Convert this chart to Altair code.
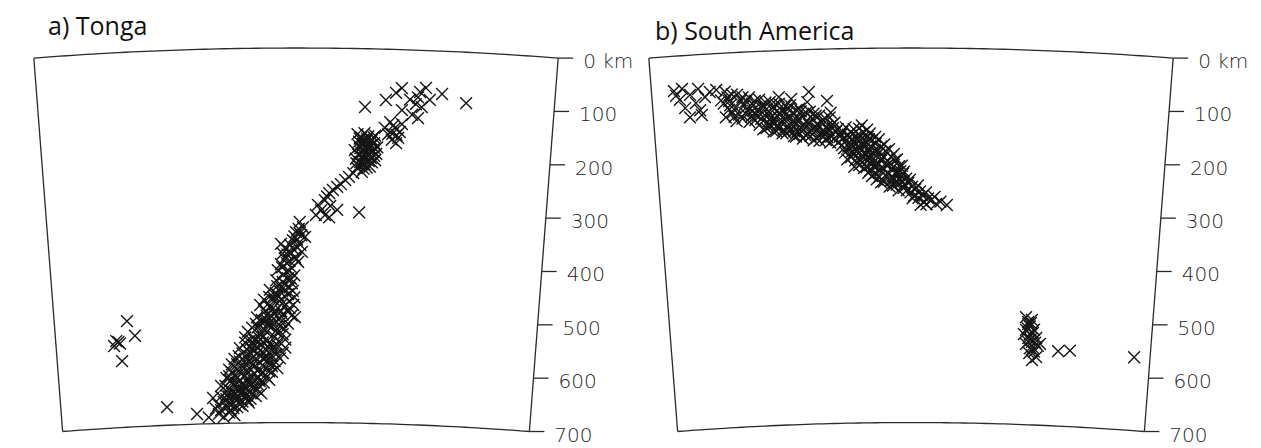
import altair as alt
import numpy as np
import pandas as pd

# ---------------- geometry of the cross-sections ----------------
EARTH_R = 6371.0            # km
SURFACE_HALF_CHORD = 490.0  # km, half width of section at the surface
MAX_DEPTH = 700.0           # km

tick_depths = [0, 100, 200, 300, 400, 500, 600, 700]
tick_labels = ["0 km", "100", "200", "300", "400", "500", "600", "700"]

panel_titles = ["a) Tonga", "b) South America"]

# ---------------- earthquake hypocentres: (horizontal distance km, depth km) ----------------
tonga_shallow = [(318, 95), (273, 80), (243, 70), (232, 78), (228, 88), (187, 81), (168, 95),
                 (129, 109), (235, 106), (228, 127), (198, 113), (213, 93), (198, 72),
                 (224, 101), (250, 92), (217, 121)]
tonga_upper = [(176, 136), (185, 147), (194, 154), (172, 159), (191, 165), (179, 169), (166, 147),
               (198, 139), (187, 175), (180, 158), (188, 160), (182, 142),
               (115, 160), (122, 166), (128, 158), (135, 164), (142, 170), (148, 162), (118, 174),
               (125, 178), (132, 172), (140, 180), (146, 176), (152, 184), (120, 186), (128, 190),
               (136, 186), (144, 192), (150, 196), (116, 198), (124, 202), (132, 198), (140, 204),
               (148, 208), (120, 212), (128, 216), (136, 210), (112, 206), (118, 220), (126, 224),
               (110, 190), (138, 220), (145, 165), (130, 182),
               (119, 168), (126, 170), (133, 168), (140, 174), (147, 186), (122, 194), (130, 194),
               (138, 198), (146, 200), (118, 182), (134, 178), (128, 206), (124, 216), (113, 214),
               (142, 212), (132, 222)]
tonga_chain = [(107, 233), (92, 246), (77, 259), (62, 271), (54, 284), (47, 303), (77, 302),
               (118, 306), (99, 240), (84, 254), (69, 265), (58, 277), (41, 293), (64, 295),
               (37, 312), (54, 312), (114, 223), (123, 230), (62, 316)]
tonga_mid = [(13, 335), (17, 353), (2, 372), (-2, 391), (-13, 379), (-28, 366), (-13, 417),
             (-28, 404), (7, 346), (-6, 359), (11, 381), (-21, 393), (4, 400), (-8, 411),
             (-21, 374), (-34, 415), (7, 325), (0, 344), (-11, 368), (-24, 424),
             (-6, 454), (-28, 447), (-43, 465), (-13, 473), (-2, 503), (-58, 492), (-73, 503),
             (-28, 492), (-37, 434), (-21, 441), (-49, 452), (-34, 462), (-52, 478), (-21, 482),
             (-67, 480), (-41, 497), (-15, 493), (-64, 508),
             (-15, 430), (-8, 440), (-30, 455), (-40, 472), (-15, 460), (-28, 470), (-45, 488),
             (-55, 500), (-30, 505), (-10, 385), (2, 358), (-17, 402), (-3, 425), (-25, 384),
             (-50, 465), (-60, 470), (-5, 480)]
tonga_mid_core = [(5, 338), (10, 350), (-3, 352), (8, 368), (-5, 376), (-16, 386), (0, 395),
                  (-12, 398), (-26, 410), (-18, 418), (-9, 432), (-25, 437), (-12, 448), (-35, 445),
                  (-20, 452), (-3, 466), (-38, 458), (-26, 478), (-12, 486), (-48, 485), (-38, 490),
                  (-25, 498), (-55, 508), (-45, 502), (-8, 500)]
tonga_deep = [(-15, 515), (-30, 520), (-45, 510), (-60, 525), (-75, 515), (-90, 530), (-25, 535),
              (-40, 540), (-55, 530), (-70, 540), (-85, 545), (-20, 545), (-50, 520), (-65, 512),
              (-105, 560), (-95, 550), (-80, 565), (-65, 555), (-50, 560), (-35, 555), (-25, 570),
              (-45, 575), (-60, 570), (-75, 580), (-90, 575), (-100, 570), (-115, 580), (-40, 565),
              (-55, 548), (-70, 548), (-85, 558), (-30, 580), (-20, 560), (-110, 590),
              (-125, 600), (-115, 610), (-100, 595), (-90, 605), (-80, 590), (-70, 600), (-60, 595),
              (-50, 590), (-45, 605), (-55, 615), (-65, 610), (-75, 620), (-85, 615), (-95, 585),
              (-105, 620), (-120, 590), (-130, 615), (-110, 600), (-40, 585), (-50, 620), (-50, 604),
              (-140, 630), (-130, 640), (-120, 625), (-110, 635), (-100, 630), (-90, 640), (-80, 635),
              (-70, 630), (-65, 645), (-75, 650), (-85, 655), (-95, 650), (-105, 645), (-115, 655),
              (-125, 650), (-135, 660), (-100, 660), (-80, 625), (-60, 625), (-120, 640), (-90, 625),
              (-120, 665), (-110, 670), (-130, 670), (-100, 668), (-140, 675), (-125, 680),
              (-135, 688), (-155, 652), (-185, 681), (-163, 688), (-144, 682)]
tonga_deep_core = [(-22, 525), (-37, 528), (-52, 515), (-67, 532), (-82, 522), (-32, 548), (-47, 552),
                   (-62, 540), (-77, 555), (-92, 562), (-107, 575), (-57, 562), (-72, 570), (-87, 568),
                   (-37, 572), (-52, 582), (-67, 588), (-82, 578), (-97, 598), (-112, 612), (-122, 620),
                   (-62, 605), (-77, 608), (-92, 618), (-72, 615), (-87, 598), (-102, 608), (-117, 628),
                   (-132, 630), (-107, 638), (-95, 632), (-82, 645), (-72, 638), (-92, 648), (-112, 645),
                   (-127, 662), (-117, 672), (-108, 655), (-97, 640), (-140, 650), (-145, 665),
                   (-130, 655), (-88, 662), (-115, 685), (-150, 672), (-58, 580), (-45, 595),
                   (-35, 598), (-120, 605), (-110, 625),
                   (-28, 512), (-42, 518), (-58, 510), (-72, 522), (-35, 532), (-62, 550), (-78, 545),
                   (-95, 540), (-42, 558), (-55, 575), (-72, 560), (-88, 585), (-105, 585), (-62, 580),
                   (-78, 595), (-95, 612), (-110, 615), (-125, 612), (-68, 622), (-85, 628),
                   (-100, 640), (-118, 648), (-130, 648), (-90, 658), (-105, 665), (-122, 675)]
tonga_outliers = [(-316, 502), (-301, 530), (-336, 538), (-329, 543), (-340, 547), (-332, 540),
                  (-325, 576), (-241, 666)]

sa_shallow = [(-443, 65), (-428, 62), (-413, 74), (-398, 64), (-376, 71), (-364, 68), (-432, 82),
              (-402, 90), (-413, 116), (-391, 113), (-394, 104), (-422, 98), (-439, 74), (-385, 80),
              (-247, 87), (-191, 79), (-194, 98), (-157, 97), (-150, 119), (-224, 91)]
sa_band = [(-348, 72), (-343, 83), (-350, 94), (-340, 106), (-346, 120),
           (-325, 79), (-318, 90), (-328, 103), (-321, 116), (-326, 128),
           (-303, 85), (-297, 97), (-305, 110), (-299, 121), (-302, 131),
           (-284, 90), (-279, 101), (-286, 113), (-280, 126), (-283, 137), (-276, 146),
           (-264, 95), (-258, 106), (-266, 119), (-260, 131), (-263, 140), (-257, 151),
           (-247, 99), (-241, 112), (-249, 123), (-243, 134), (-246, 145), (-240, 155),
           (-226, 103), (-220, 117), (-228, 128), (-222, 139), (-225, 150), (-219, 161),
           (-209, 110), (-204, 123), (-211, 134), (-205, 146), (-208, 157), (-202, 166),
           (-189, 116), (-184, 129), (-191, 140), (-186, 151), (-188, 162), (-182, 170),
           (-172, 124), (-167, 137), (-174, 149), (-168, 160), (-171, 171),
           (-152, 128), (-147, 141), (-154, 152), (-149, 164), (-151, 175)]
sa_band_core = [(-355, 88), (-335, 78), (-338, 98), (-333, 112), (-315, 84), (-312, 100), (-310, 114),
                (-315, 124), (-292, 92), (-290, 104), (-293, 116), (-291, 128), (-272, 96), (-270, 108),
                (-273, 120), (-268, 133), (-270, 144), (-253, 100), (-251, 113), (-254, 127),
                (-250, 140), (-252, 150), (-234, 104), (-232, 118), (-236, 130), (-230, 142),
                (-233, 155), (-214, 112), (-213, 126), (-216, 140), (-212, 152), (-215, 162),
                (-196, 118), (-195, 133), (-198, 146), (-194, 158), (-178, 124), (-176, 140),
                (-179, 153), (-177, 166), (-160, 130), (-158, 145), (-161, 158), (-159, 170),
                (-143, 138), (-141, 155), (-144, 168),
                (-340, 90), (-330, 120), (-308, 92), (-296, 110), (-287, 120), (-275, 103),
                (-262, 125), (-256, 137), (-244, 118), (-238, 148), (-230, 110), (-220, 132),
                (-218, 152), (-206, 115), (-200, 140), (-197, 160), (-182, 120), (-180, 146),
                (-165, 132), (-163, 152), (-156, 165), (-146, 148)]
sa_blob = [(-137, 150), (-133, 164), (-136, 175),
           (-122, 147), (-118, 161), (-121, 172), (-117, 183), (-123, 194), (-119, 207),
           (-107, 151), (-102, 164), (-106, 176), (-103, 187), (-108, 198), (-104, 209), (-106, 221),
           (-92, 144), (-88, 157), (-91, 168), (-87, 179), (-93, 191), (-89, 202), (-91, 213), (-88, 224),
           (-77, 159), (-73, 172), (-76, 184), (-72, 195), (-78, 206), (-74, 217), (-76, 228), (-73, 239),
           (-60, 170), (-56, 184), (-59, 195), (-55, 206), (-61, 217), (-57, 228), (-59, 240), (-56, 251),
           (-41, 189), (-37, 203), (-40, 214), (-36, 225), (-42, 236), (-38, 248), (-40, 259),
           (-26, 208), (-22, 221), (-25, 233), (-21, 244), (-27, 255), (-23, 266)]
sa_blob_core = [(-128, 155), (-127, 168), (-129, 180), (-112, 156), (-111, 170), (-113, 181),
                (-110, 192), (-112, 203), (-97, 150), (-96, 162), (-98, 174), (-95, 185), (-99, 196),
                (-96, 207), (-97, 218), (-82, 152), (-81, 165), (-83, 177), (-80, 189), (-84, 200),
                (-81, 211), (-83, 222), (-80, 233), (-67, 166), (-66, 178), (-68, 190), (-65, 201),
                (-69, 212), (-66, 222), (-67, 234), (-64, 245), (-50, 180), (-48, 192), (-51, 204),
                (-47, 215), (-50, 226), (-48, 238), (-51, 250), (-32, 198), (-30, 210), (-33, 222),
                (-29, 233), (-31, 245), (-34, 257), (-17, 220), (-15, 235), (-18, 250), (-14, 262),
                (-130, 160), (-125, 186), (-115, 166), (-108, 182), (-100, 170), (-92, 180),
                (-86, 195), (-79, 170), (-75, 200), (-70, 220), (-62, 190), (-56, 210), (-45, 220),
                (-35, 240), (-28, 250), (-20, 230)]
sa_tail = [(-13, 231), (-9, 244), (-12, 255), (-8, 266), (-2, 246), (2, 259), (-1, 270), (3, 281),
           (13, 257), (17, 268), (14, 280), (18, 293), (28, 270), (32, 281), (29, 292), (44, 278),
           (47, 291), (67, 293), (-5, 252), (8, 264), (6, 276), (22, 276), (24, 288), (38, 284),
           (55, 287)]
sa_deep = [(215, 499), (219, 508), (222, 516), (226, 504), (215, 523), (230, 522), (222, 531),
           (219, 538), (234, 537), (226, 545), (215, 549), (237, 552), (222, 557), (230, 563),
           (234, 573), (226, 579), (219, 512), (211, 531), (241, 548),
           (224, 510), (218, 520), (228, 528), (224, 540), (219, 545), (232, 546), (228, 556),
           (221, 566), (275, 560), (297, 558), (417, 563)]

# ---------------- layout ----------------
PANEL_W = 615
PANEL_H = 432
KM_PER_PX = 1.869
X_DOMAIN = [-288 * KM_PER_PX, (PANEL_W - 288) * KM_PER_PX]
Y_DOMAIN = [-40 * KM_PER_PX, (PANEL_H - 40) * KM_PER_PX]
TICK_LEN_KM = 15 * KM_PER_PX
LABEL_GAP_KM = 10 * KM_PER_PX

phi0 = np.arcsin(SURFACE_HALF_CHORD / EARTH_R)


def polar(phi, d):
    r = EARTH_R - d
    return r * np.sin(phi), EARTH_R - r * np.cos(phi)


def quake_df(groups):
    pts = [p for g in groups for p in g]
    x = np.array([p[0] for p in pts], float)
    d = np.array([p[1] for p in pts], float)
    r = EARTH_R - d
    y = EARTH_R - np.sqrt(r * r - x * x)
    return pd.DataFrame({"x": x, "y": y, "depth": d})


def frame_df():
    rows = []
    phis = np.linspace(-phi0, phi0, 81)
    for i, p in enumerate(phis):
        x, y = polar(p, 0.0)
        rows.append({"seg": "top", "i": i, "x": x, "y": y})
        x, y = polar(p, MAX_DEPTH)
        rows.append({"seg": "bottom", "i": i, "x": x, "y": y})
    for i, dd in enumerate([0.0, MAX_DEPTH]):
        x, y = polar(-phi0, dd)
        rows.append({"seg": "left", "i": i, "x": x, "y": y})
        x, y = polar(phi0, dd)
        rows.append({"seg": "right", "i": i, "x": x, "y": y})
    return pd.DataFrame(rows)


def tick_df():
    rows = []
    for t, lab in zip(tick_depths, tick_labels):
        x, y = polar(phi0, float(t))
        rows.append({"x": x, "x2": x + TICK_LEN_KM, "xl": x + TICK_LEN_KM + LABEL_GAP_KM,
                     "y": y, "label": lab})
    return pd.DataFrame(rows)


xs = alt.Scale(domain=X_DOMAIN, nice=False, zero=False)
ys = alt.Scale(domain=Y_DOMAIN, nice=False, zero=False, reverse=True)
INK = "#2a2a2a"


def panel(groups, title, tx, ty):
    fr = alt.Chart(frame_df()).mark_line(color=INK, strokeWidth=1.3).encode(
        x=alt.X("x:Q", scale=xs, axis=None),
        y=alt.Y("y:Q", scale=ys, axis=None),
        detail="seg:N", order="i:Q")
    td = tick_df()
    ticks = alt.Chart(td).mark_rule(color=INK, strokeWidth=1.3).encode(
        x=alt.X("x:Q", scale=xs, axis=None), x2="x2:Q",
        y=alt.Y("y:Q", scale=ys, axis=None))
    labels = alt.Chart(td).mark_text(align="left", baseline="middle", dy=4,
                                     font="DejaVu Sans", fontSize=20, fontWeight=300,
                                     color="#1f1f1f").encode(
        x=alt.X("xl:Q", scale=xs, axis=None),
        y=alt.Y("y:Q", scale=ys, axis=None), text="label:N")
    pts = alt.Chart(quake_df(groups)).mark_point(
        shape="M-1,-1L1,1M1,-1L-1,1", filled=False, size=140, color="#151515",
        strokeWidth=1.4, opacity=1).encode(
        x=alt.X("x:Q", scale=xs, axis=None),
        y=alt.Y("y:Q", scale=ys, axis=None))
    ttl = alt.Chart(pd.DataFrame({"t": [title]})).mark_text(
        align="left", baseline="alphabetic", font="Open Sans", fontSize=25,
        color="#111").encode(x=alt.value(tx), y=alt.value(ty), text="t:N")
    return alt.layer(fr, ticks, labels, pts, ttl).properties(width=PANEL_W, height=PANEL_H)


pa = panel([tonga_shallow, tonga_upper, tonga_chain, tonga_mid, tonga_mid_core, tonga_deep,
            tonga_deep_core, tonga_outliers], panel_titles[0], 40, 27)
pb = panel([sa_shallow, sa_band, sa_band_core, sa_blob, sa_blob_core, sa_tail, sa_deep],
           panel_titles[1], 32, 32)

chart = alt.hconcat(pa, pb, spacing=0, bounds="flush").properties(
    padding=0).configure_view(stroke=None)

chart.save("out.html", embed_options={"renderer": "svg", "actions": False})
